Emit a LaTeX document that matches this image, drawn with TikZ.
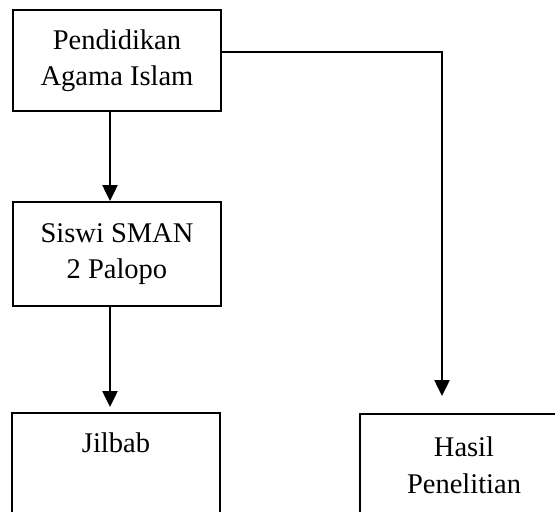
\documentclass[tikz,border=0pt]{standalone}
\usepackage{fontspec}
\setmainfont{Liberation Serif}
\usetikzlibrary{arrows.meta}
\begin{document}
\begin{tikzpicture}[x=1pt,y=-1pt,
  box/.style={draw=black,line width=2pt,inner sep=0pt,minimum width=208pt,align=center,
    font=\fontsize{28.5}{36.5}\selectfont},
  arr/.style={line width=2.5pt,-{Triangle[width=15pt,length=16pt]}}]
\useasboundingbox (0,0) rectangle (555,512);
\clip (0,0) rectangle (555,512);
\fill[white] (0,0) rectangle (555,512);
\node[box,minimum height=101pt] (top) at (117,60.5) {Pendidikan\\Agama Islam};
\node[box,minimum height=104pt] (siswi) at (117,254) {Siswi SMAN\\2 Palopo};
\node[box,minimum height=104pt] (jilbab) at (116,464.5) {};
\node[anchor=base,font=\fontsize{28.5}{36.5}\selectfont] (jilbabtxt) at (116,452) {Jilbab};
\node[box,minimum height=102pt] (hasil) at (464,465) {Hasil\\Penelitian};
\coordinate (cx) at (110,0);
\coordinate (cy) at (0,52);
\coordinate (hx) at (442,0);
\draw[arr] (top.south -| cx) -- (siswi.north -| cx);
\draw[arr,shorten >=4.5pt] (siswi.south -| cx) -- (jilbab.north -| cx);
\draw[arr,shorten >=17pt] (top.east |- cy) -| (hasil.north -| hx);
\end{tikzpicture}
\end{document}
